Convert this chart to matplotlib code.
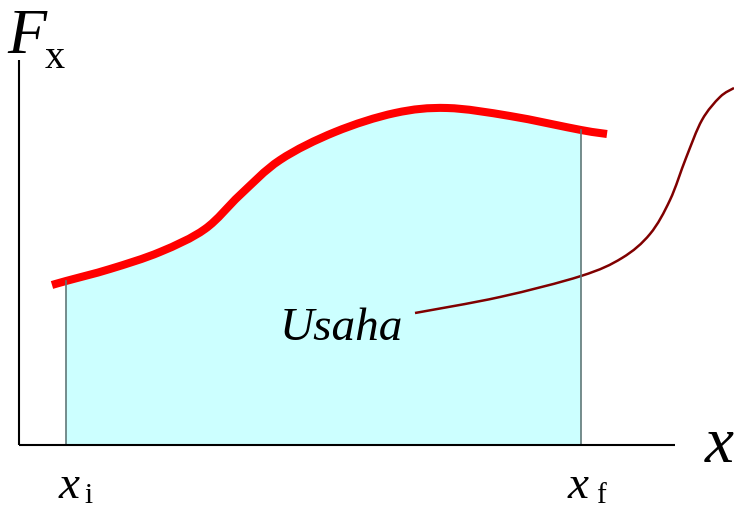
import numpy as np
import matplotlib
matplotlib.use('Agg')
import matplotlib.pyplot as plt
from matplotlib.path import Path
from matplotlib.patches import PathPatch

plt.rcParams['font.family'] = ['Liberation Serif', 'DejaVu Serif']

# Force curve F_x(x) (pixel units, y grows downward)
curve_x = [52, 66, 110, 160, 205, 240, 280, 335, 395, 447, 510, 581, 607]
curve_y = [285, 281, 269, 252, 229, 195, 160, 132, 113, 108, 116, 130, 134]

# Integration limits and axis baseline
x_i, x_f = 66, 581
base_y = 445

# Leader line from the "Usaha" label
lead_x = [415, 500, 581, 622, 650, 670, 686, 702, 720, 734]
lead_y = [313, 297, 276, 258, 234, 200, 158, 120, 97, 88]


def smooth_path(xs, ys):
    # Catmull-Rom through the points, drawn as cubic Bezier segments
    p = np.column_stack([xs, ys]).astype(float)
    verts = [p[0]]
    codes = [Path.MOVETO]
    for k in range(len(p) - 1):
        p0 = p[max(k - 1, 0)]
        p1, p2 = p[k], p[k + 1]
        p3 = p[min(k + 2, len(p) - 1)]
        verts += [p1 + (p2 - p0) / 6, p2 - (p3 - p1) / 6, p2]
        codes += [Path.CURVE4] * 3
    return verts, codes


fig = plt.figure(figsize=(7.34, 5.09), dpi=100)
ax = fig.add_axes([0, 0, 1, 1])
ax.set_xlim(0, 734)
ax.set_ylim(509, 0)
ax.axis('off')

cx = np.array(curve_x)
cy = np.array(curve_y)
m = (cx >= x_i) & (cx <= x_f)

# shaded work area
v, c = smooth_path(cx[m], cy[m])
v += [(x_f, base_y), (x_i, base_y), v[0]]
c += [Path.LINETO, Path.LINETO, Path.CLOSEPOLY]
ax.add_patch(PathPatch(Path(v, c), facecolor='#ccffff', lw=0))
ax.plot([x_i, x_i], [cy[m][0], base_y], color='#607878', lw=1.2)
ax.plot([x_f, x_f], [cy[m][-1], base_y], color='#607878', lw=1.2)

# axes
ax.plot([19, 19], [60, base_y], color='black', lw=1.5, solid_capstyle='butt')
ax.plot([19, 675], [base_y, base_y], color='black', lw=1.5, solid_capstyle='butt')

# force curve
v, c = smooth_path(cx, cy)
ax.add_patch(PathPatch(Path(v, c), facecolor='none', edgecolor='#ff0000',
                       lw=5.8, capstyle='butt'))

# leader line
v, c = smooth_path(lead_x, lead_y)
ax.add_patch(PathPatch(Path(v, c), facecolor='none', edgecolor='#800000', lw=1.8))

# labels
ax.text(7, 53, 'F', fontsize=46, style='italic')
ax.text(45, 68, 'x', fontsize=29)
ax.text(705, 462, 'x', fontsize=47, style='italic')
ax.text(59, 498, 'x', fontsize=34, style='italic')
ax.text(84, 503, 'i', fontsize=21)
ax.text(568, 498, 'x', fontsize=34, style='italic')
ax.text(596, 503, 'f', fontsize=21)
ax.text(280, 340, 'Usaha', fontsize=34, style='italic')

fig.savefig('out.png', dpi=100)
